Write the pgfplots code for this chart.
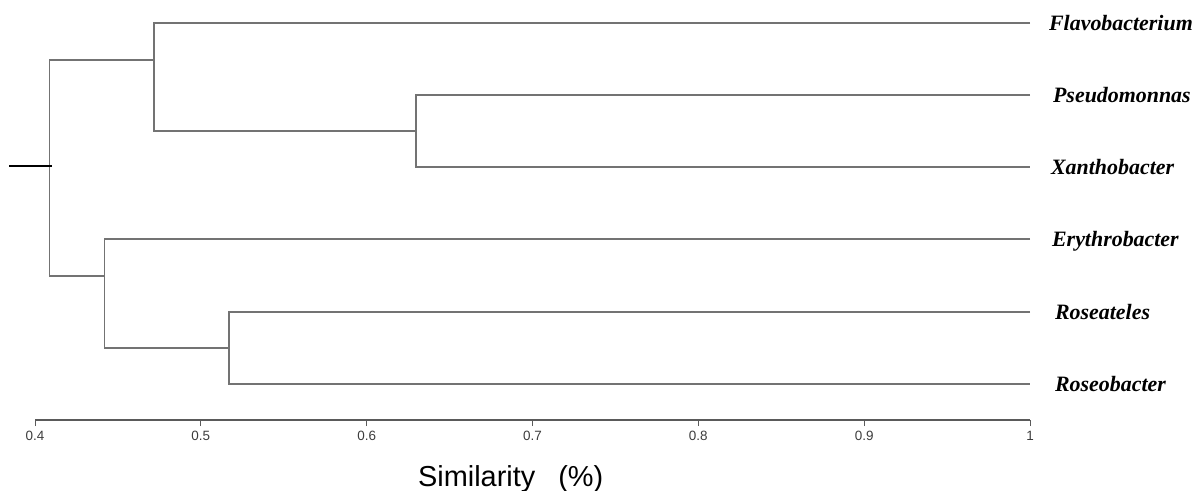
\documentclass[border=0pt]{standalone}
\usepackage{pgfplots}
\pgfplotsset{compat=1.18}
\usepackage{fontspec}
\setmainfont{Liberation Sans}
\newfontfamily\tnr{Liberation Serif}
\definecolor{dline}{RGB}{115,115,115}
\definecolor{axgray}{RGB}{90,90,90}
\definecolor{ticktext}{RGB}{60,60,60}
\begin{document}
\begin{tikzpicture}[x=1bp,y=1bp]
\clip (0,0) rectangle (1196,491);
\path[use as bounding box] (0,0) rectangle (1196,491);
\begin{axis}[
  at={(35bp,71bp)}, anchor=south west,
  scale only axis, width=995bp, height=420bp,
  xmin=0.4, xmax=1, ymin=0, ymax=420, y dir=reverse,
  clip=false,
  axis x line*=bottom, axis y line=none,
  x axis line style={axgray, line width=1.2bp},
  xtick={0.4,0.5,0.6,0.7,0.8,0.9,1},
  xticklabels={0.4,0.5,0.6,0.7,0.8,0.9,1},
  tick align=outside, major tick length=6bp,
  x tick style={axgray, line width=1bp},
  xticklabel style={font=\fontsize{13.5}{15}\selectfont, text=ticktext, yshift=-2bp},
  /pgf/number format/assume math mode=true,
]
\addplot[dline, line width=1.5bp] coordinates {(1,95) (0.6296,95) (0.6296,167) (1,167)};
\addplot[dline, line width=1.5bp] coordinates {(1,312) (0.5170,312) (0.5170,384) (1,384)};
\addplot[dline, line width=1.5bp] coordinates {(1,23) (0.4718,23) (0.4718,131) (0.6296,131)};
\addplot[dline, line width=1.5bp] coordinates {(1,239) (0.4420,239) (0.4420,348) (0.5170,348)};
\addplot[dline, line width=1.5bp] coordinates {(0.4718,60) (0.4087,60) (0.4087,276) (0.4420,276)};
\addplot[black, line width=1.5bp] coordinates {(0.3845,166) (0.4101,166)};
\begin{scope}[font=\tnr\bfseries\itshape\fontsize{22}{24}\selectfont]
\node[anchor=base west, inner sep=0pt] at (axis cs:1.0114,30.3) {Flavobacterium};
\node[anchor=base west, inner sep=0pt] at (axis cs:1.0138,102.3) {Pseudomonnas};
\node[anchor=base west, inner sep=0pt] at (axis cs:1.0126,174.3) {Xanthobacter};
\node[anchor=base west, inner sep=0pt] at (axis cs:1.0132,246.3) {Erythrobacter};
\node[anchor=base west, inner sep=0pt] at (axis cs:1.0150,319.3) {Roseateles};
\node[anchor=base west, inner sep=0pt] at (axis cs:1.0150,391.3) {Roseobacter};
\end{scope}
\node[anchor=base west, inner sep=0pt, font=\fontsize{29}{32}\selectfont] at (axis cs:0.6309,486.5) {Similarity\hspace{23bp}(\%)};
\end{axis}
\end{tikzpicture}
\end{document}
